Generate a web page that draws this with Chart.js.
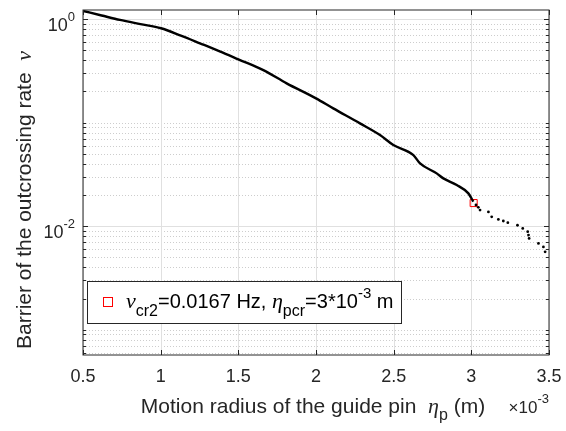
<!DOCTYPE html>
<html lang="en">
<head>
  <meta charset="UTF-8">
  <title>Barrier of the outcrossing rate</title>
  <script src="https://cdn.jsdelivr.net/npm/chart.js"></script>
  <style>
    html, body {
      margin: 0;
      padding: 0;
      background: #ffffff;
    }
    .chart-container {
      width: 566px;
      height: 431px;
    }
  </style>
</head>
<body>
<div class="chart-container">
  <canvas id="rateChart"></canvas>
</div>

<script>
  // 曲线数据（x 单位 1e-3 m）
  const radiusLine = [0.5, 0.62, 0.738, 0.87, 1.002, 1.13, 1.253, 1.38, 1.5, 1.661, 1.811, 2.0, 2.111, 2.283, 2.412, 2.498, 2.627, 2.67, 2.777, 2.82, 2.906, 2.981, 3.013];
  const rateLine = [1.195, 1.08, 0.978, 0.891, 0.813, 0.69, 0.582, 0.487, 0.408, 0.321, 0.239, 0.171, 0.137, 0.0982, 0.0757, 0.0606, 0.0485, 0.0403, 0.0323, 0.0289, 0.0249, 0.0207, 0.0172];

  // 尾部散点
  const radiusDots = [3.03, 3.045, 3.056, 3.11, 3.131, 3.174, 3.206, 3.235, 3.297, 3.331, 3.363, 3.368, 3.372, 3.432, 3.464, 3.475];
  const rateDots = [0.0160, 0.0152, 0.0143, 0.0137, 0.0123, 0.0116, 0.0112, 0.0108, 0.0102, 0.0095, 0.00883, 0.0082, 0.0076, 0.0068, 0.0063, 0.00565];

  // 临界点
  const critRadius = [3.015];
  const critRate = [0.0167];

  // 刻度
  const xTicks = [0.5, 1, 1.5, 2, 2.5, 3, 3.5];
  const xTickLabels = ['0.5', '1', '1.5', '2', '2.5', '3', '3.5'];
  const yMajorTicks = [0.01, 1];
  const yMajorExp = ['-2', '0'];
  const yMin = 5.7e-4;
  const yMax = 1.22;

  const SANS = '"Liberation Sans", Arial, Helvetica, sans-serif';
  const SERIF = '"Liberation Serif", "Times New Roman", serif';
  const INK = '#262626';

  function toPoints(xs, ys) {
    return xs.map((x, i) => ({ x: x, y: ys[i] }));
  }

  // 依次绘制混合字体文本
  function runsWidth(ctx, runs) {
    let w = 0;
    runs.forEach(r => { ctx.font = r.font; w += ctx.measureText(r.text).width; });
    return w;
  }
  function drawRuns(ctx, runs, x, y) {
    runs.forEach(r => {
      ctx.font = r.font;
      ctx.fillText(r.text, x, y + (r.dy || 0));
      x += ctx.measureText(r.text).width;
    });
    return x;
  }

  const matlabAxes = {
    id: 'matlabAxes',
    beforeDatasetsDraw(chart) {
      const ctx = chart.ctx;
      const area = chart.chartArea;
      const xs = chart.scales.x;
      const ys = chart.scales.y;
      ctx.save();
      // 次网格（虚线）
      ctx.strokeStyle = '#cdcdcd';
      ctx.lineWidth = 1;
      ctx.setLineDash([1, 2]);
      for (let e = -4; e <= 0; e++) {
        for (let m = 1; m <= 9; m++) {
          const v = m * Math.pow(10, e);
          if (v < yMin || v > yMax || yMajorTicks.some(t => Math.abs(t - v) < 1e-12)) continue;
          const py = Math.round(ys.getPixelForValue(v)) + 0.5;
          ctx.beginPath();
          ctx.moveTo(area.left, py);
          ctx.lineTo(area.right, py);
          ctx.stroke();
        }
      }
      // 主网格
      ctx.setLineDash([]);
      ctx.strokeStyle = '#e0e0e0';
      xTicks.forEach(v => {
        const px = Math.round(xs.getPixelForValue(v)) + 0.5;
        ctx.beginPath();
        ctx.moveTo(px, area.top);
        ctx.lineTo(px, area.bottom);
        ctx.stroke();
      });
      yMajorTicks.forEach(v => {
        const py = Math.round(ys.getPixelForValue(v)) + 0.5;
        ctx.beginPath();
        ctx.moveTo(area.left, py);
        ctx.lineTo(area.right, py);
        ctx.stroke();
      });
      ctx.restore();
    },
    afterDatasetsDraw(chart) {
      const ctx = chart.ctx;
      const area = chart.chartArea;
      const xs = chart.scales.x;
      const ys = chart.scales.y;
      ctx.save();
      // 坐标框
      ctx.strokeStyle = INK;
      ctx.lineWidth = 1;
      ctx.strokeRect(area.left, area.top, area.right - area.left, area.bottom - area.top);
      // 刻度线（朝内）
      ctx.beginPath();
      xTicks.forEach(v => {
        const px = Math.round(xs.getPixelForValue(v)) + 0.5;
        ctx.moveTo(px, area.bottom); ctx.lineTo(px, area.bottom - 5);
        ctx.moveTo(px, area.top); ctx.lineTo(px, area.top + 5);
      });
      for (let e = -4; e <= 0; e++) {
        for (let m = 1; m <= 9; m++) {
          const v = m * Math.pow(10, e);
          if (v < yMin || v > yMax) continue;
          const major = yMajorTicks.some(t => Math.abs(t - v) < 1e-12);
          const len = major ? 5 : 3;
          const py = Math.round(ys.getPixelForValue(v)) + 0.5;
          ctx.moveTo(area.left, py); ctx.lineTo(area.left + len, py);
          ctx.moveTo(area.right, py); ctx.lineTo(area.right - len, py);
        }
      }
      ctx.stroke();

      // 图例
      const lx = 87, ly = 281, lw = 314, lh = 42;
      ctx.fillStyle = '#ffffff';
      ctx.fillRect(lx, ly, lw, lh);
      ctx.strokeStyle = INK;
      ctx.strokeRect(lx + 0.5, ly + 0.5, lw, lh);
      ctx.strokeStyle = '#ff0000';
      ctx.strokeRect(103.5, 297.5, 9, 9);
      ctx.fillStyle = '#000000';
      ctx.textBaseline = 'alphabetic';
      ctx.textAlign = 'left';
      drawRuns(ctx, [
        { text: 'ν', font: 'italic 22px ' + SERIF },
        { text: 'cr2', font: '16px ' + SANS, dy: 8 },
        { text: '=0.0167 Hz, ', font: '20px ' + SANS },
        { text: 'η', font: 'italic 22px ' + SERIF },
        { text: 'pcr', font: '16px ' + SANS, dy: 8 },
        { text: '=3*10', font: '20px ' + SANS },
        { text: '-3', font: '15px ' + SANS, dy: -10 },
        { text: ' m', font: '20px ' + SANS }
      ], 126, 308);
      ctx.restore();
    },
    afterDraw(chart) {
      const ctx = chart.ctx;
      const area = chart.chartArea;
      const xs = chart.scales.x;
      const ys = chart.scales.y;
      ctx.save();
      ctx.fillStyle = INK;
      ctx.textBaseline = 'alphabetic';
      // x 轴刻度标签
      ctx.font = '18px ' + SANS;
      ctx.textAlign = 'center';
      xTicks.forEach((v, i) => {
        ctx.fillText(xTickLabels[i], xs.getPixelForValue(v), 382);
      });
      // y 轴刻度标签 10^n
      ctx.textAlign = 'left';
      yMajorTicks.forEach((v, i) => {
        const py = ys.getPixelForValue(v);
        const runs = [
          { text: '10', font: '18px ' + SANS },
          { text: yMajorExp[i], font: '13px ' + SANS, dy: -10 }
        ];
        const w = runsWidth(ctx, runs);
        drawRuns(ctx, runs, area.left - 8 - w, py + 12);
      });
      // x 轴标题
      const xTitle = [
        { text: 'Motion radius of the guide pin  ', font: '21px ' + SANS },
        { text: 'η', font: 'italic 22px ' + SERIF },
        { text: 'p', font: '16px ' + SANS, dy: 7 },
        { text: ' (m)', font: '21px ' + SANS }
      ];
      const cx = (area.left + area.right) / 2 - 3;
      drawRuns(ctx, xTitle, cx - runsWidth(ctx, xTitle) / 2, 413);
      // 指数 ×10^-3
      const expRuns = [
        { text: '×', font: '17px ' + SANS },
        { text: '10', font: '17px ' + SANS },
        { text: '-3', font: '13px ' + SANS, dy: -10 }
      ];
      drawRuns(ctx, expRuns, area.right - runsWidth(ctx, expRuns), 413);
      // y 轴标题
      const yTitle = [
        { text: 'Barrier of the outcrossing rate  ', font: '21px ' + SANS },
        { text: 'ν', font: 'italic 22px ' + SERIF }
      ];
      ctx.translate(31, 200);
      ctx.rotate(-Math.PI / 2);
      drawRuns(ctx, yTitle, -runsWidth(ctx, yTitle) / 2, 0);
      ctx.restore();
    }
  };

  const ctxRate = document.getElementById('rateChart').getContext('2d');
  new Chart(ctxRate, {
    type: 'scatter',
    data: {
      datasets: [{
        label: 'curve',
        data: toPoints(radiusLine, rateLine),
        showLine: true,
        cubicInterpolationMode: 'monotone',
        borderColor: '#000000',
        borderWidth: 2.4,
        pointRadius: 0
      }, {
        label: 'tail',
        data: toPoints(radiusDots, rateDots),
        showLine: false,
        backgroundColor: '#000000',
        borderWidth: 0,
        pointRadius: 1.4
      }, {
        label: 'critical',
        data: toPoints(critRadius, critRate),
        showLine: false,
        pointStyle: 'rect',
        pointRadius: 5,
        borderColor: '#ff0000',
        backgroundColor: 'rgba(0,0,0,0)',
        borderWidth: 1
      }]
    },
    options: {
      responsive: true,
      maintainAspectRatio: false,
      animation: false,
      events: [],
      layout: { padding: { top: 10, right: 17, left: 0, bottom: 0 } },
      plugins: {
        legend: { display: false },
        tooltip: { enabled: false }
      },
      scales: {
        x: {
          type: 'linear',
          min: 0.5,
          max: 3.5,
          grid: { display: false },
          border: { display: false },
          ticks: { display: false },
          afterFit: s => { s.height = 76; }
        },
        y: {
          type: 'logarithmic',
          min: yMin,
          max: yMax,
          grid: { display: false },
          border: { display: false },
          ticks: { display: false },
          afterFit: s => { s.width = 83; }
        }
      }
    },
    plugins: [matlabAxes]
  });
</script>
</body>
</html>
